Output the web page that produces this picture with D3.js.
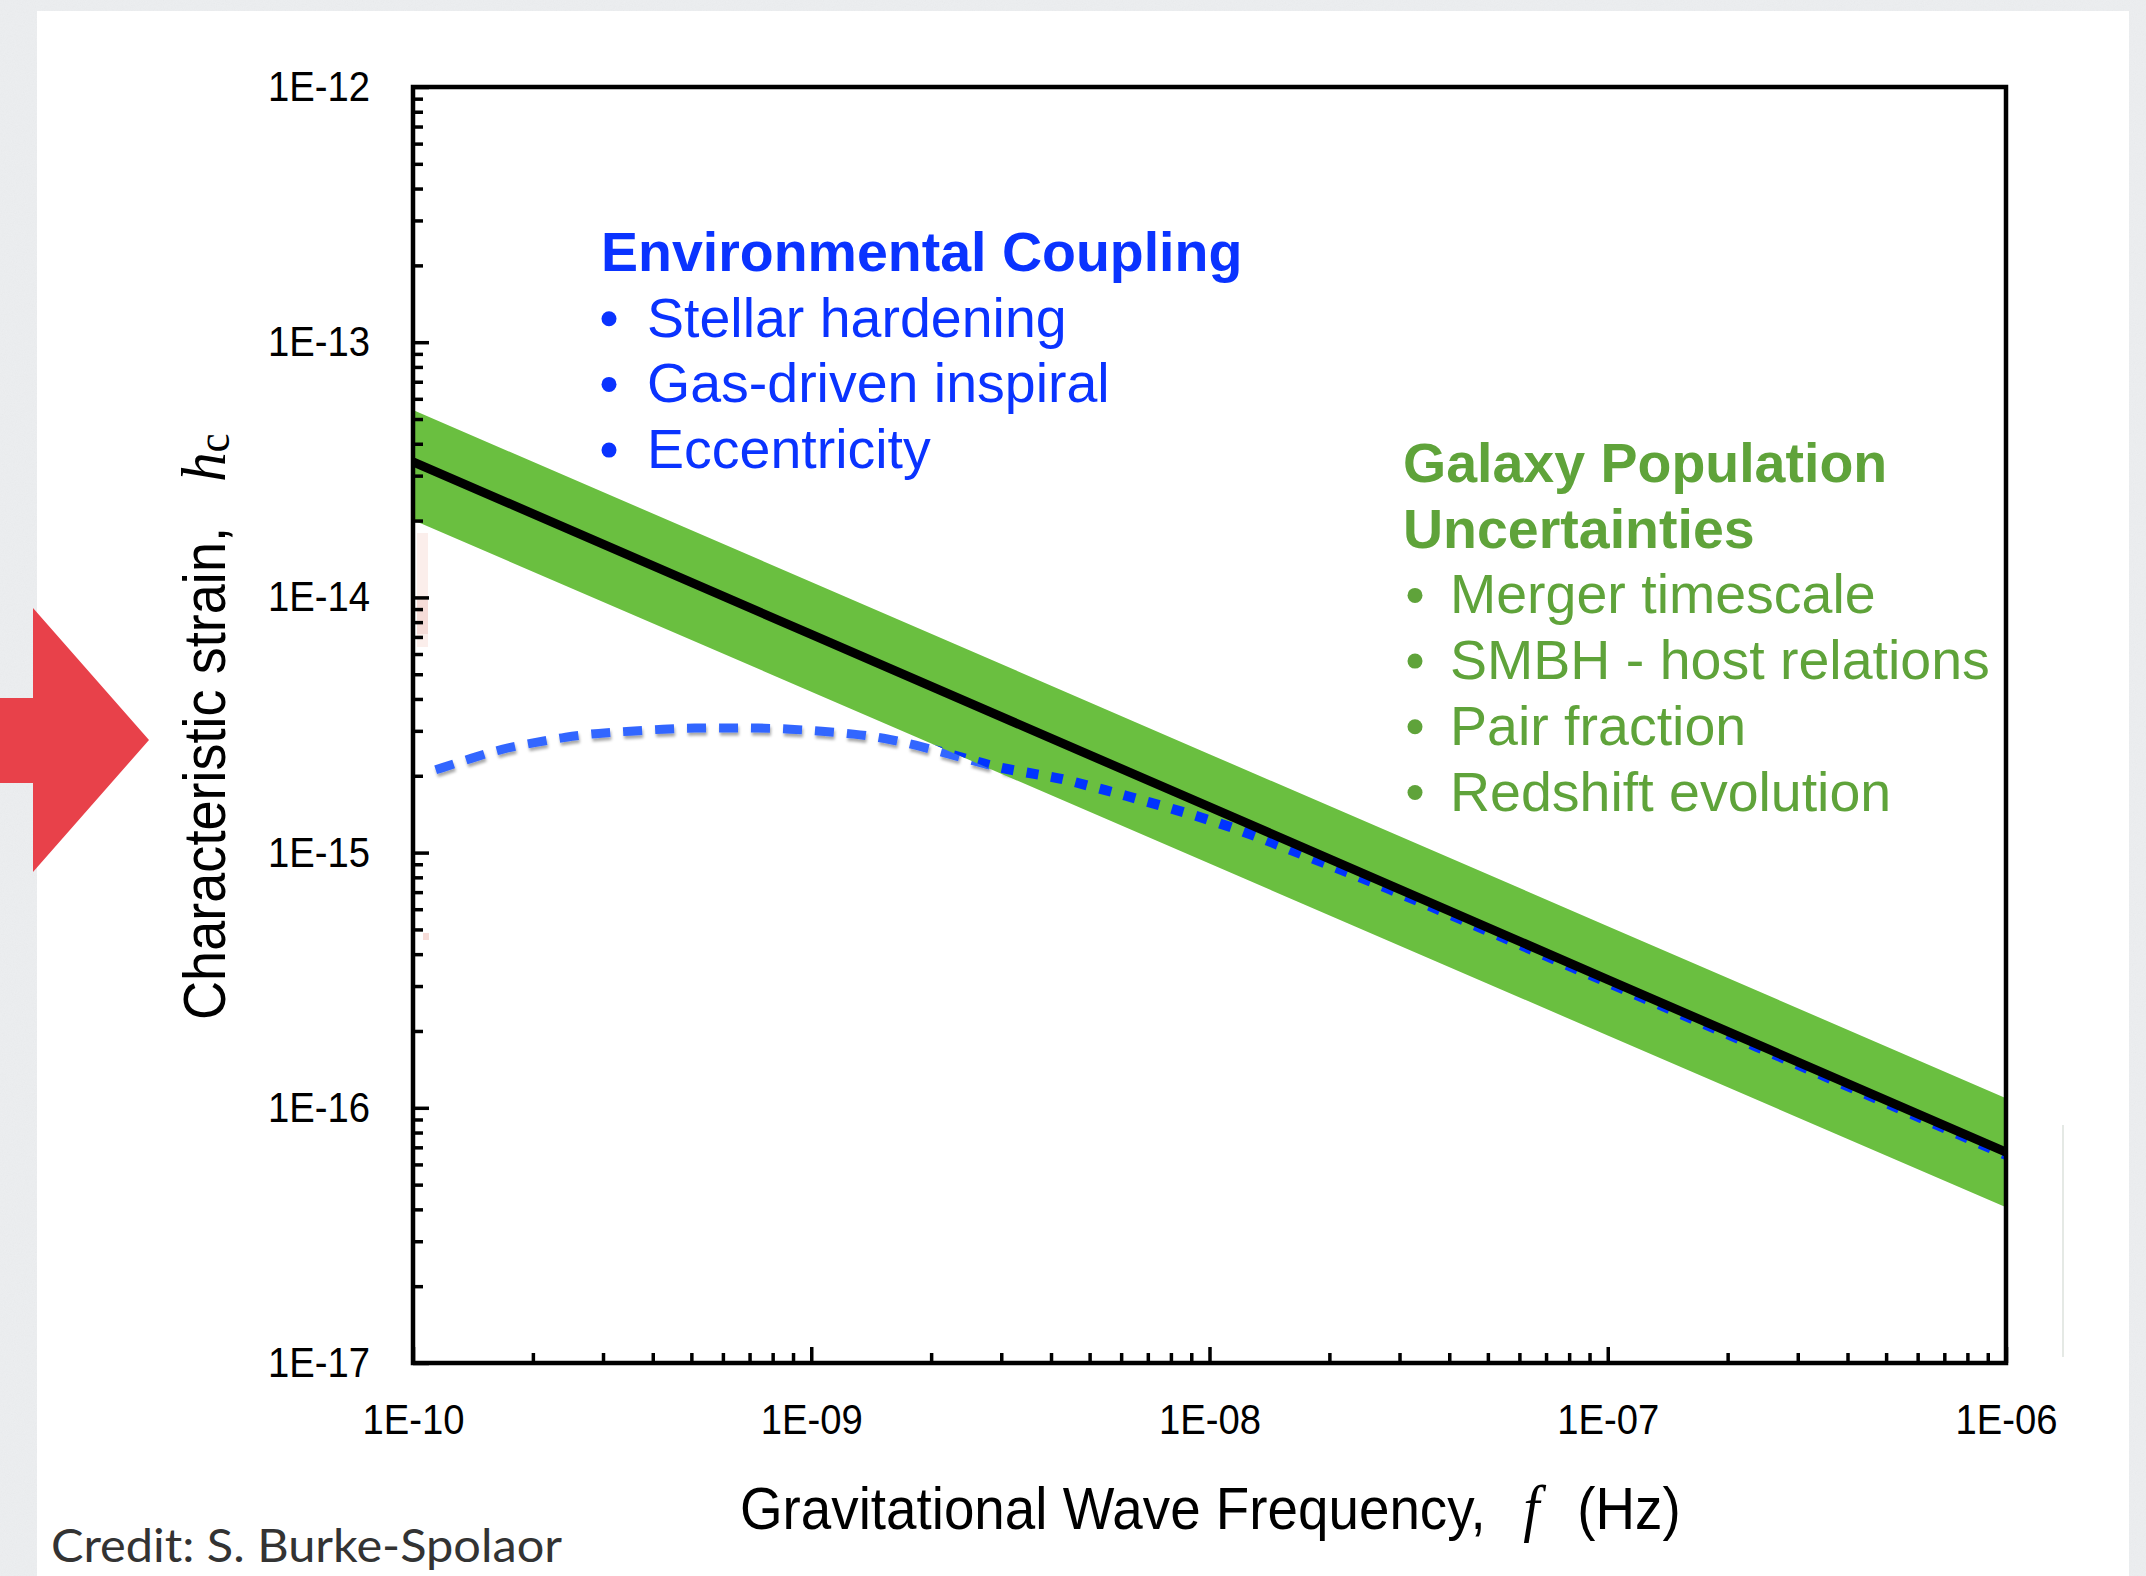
<!DOCTYPE html>
<html>
<head>
<meta charset="utf-8">
<script src="https://cdn.jsdelivr.net/npm/d3@7"></script>
<style>
  body { margin: 0; background: #eceef0; }
  svg { display: block; }
</style>
</head>
<body>
<div id="chart"></div>
<script>
// axis ticks
var xTickValues = [1e-10, 1e-9, 1e-8, 1e-7, 1e-6];
var xTickLabels = ["1E-10", "1E-09", "1E-08", "1E-07", "1E-06"];
var yTickValues = [1e-12, 1e-13, 1e-14, 1e-15, 1e-16, 1e-17];
var yTickLabels = ["1E-12", "1E-13", "1E-14", "1E-15", "1E-16", "1E-17"];

// power-law background (black line) and its uncertainty band
var modelFreq   = [1e-10, 1e-9, 1e-8, 1e-7, 1e-6];
var modelStrain = [3.40e-14, 7.16e-15, 1.51e-15, 3.18e-16, 6.71e-17];
var bandUpper   = [5.42e-14, 1.15e-14, 2.43e-15, 5.15e-16, 1.09e-16];
var bandLower   = [2.01e-14, 4.27e-15, 9.06e-16, 1.92e-16, 4.08e-17];

// environmentally coupled spectrum (blue dashed)
var envFreq = [1.14e-10, 1.41e-10, 1.67e-10, 2.00e-10, 2.42e-10, 2.93e-10, 3.51e-10, 4.25e-10,
  5.08e-10, 6.14e-10, 7.34e-10, 8.89e-10, 1.06e-9, 1.28e-9, 1.53e-9, 1.83e-9, 2.18e-9, 2.56e-9,
  2.92e-9, 3.40e-9, 3.88e-9, 4.44e-9, 5.07e-9, 5.86e-9, 6.70e-9, 7.78e-9, 1.04e-8, 1.35e-8,
  1.69e-8, 2.73e-8, 5.36e-8, 2.28e-7, 1.00e-6];
var envStrain = [2.11e-15, 2.35e-15, 2.55e-15, 2.69e-15, 2.84e-15, 2.94e-15, 2.99e-15, 3.05e-15,
  3.08e-15, 3.08e-15, 3.08e-15, 3.05e-15, 2.99e-15, 2.92e-15, 2.81e-15, 2.64e-15, 2.45e-15, 2.29e-15,
  2.16e-15, 2.07e-15, 2.00e-15, 1.92e-15, 1.81e-15, 1.71e-15, 1.61e-15, 1.51e-15, 1.32e-15, 1.14e-15,
  9.89e-16, 7.40e-16, 4.71e-16, 1.78e-16, 6.53e-17];

// annotations
var envTitle = "Environmental Coupling";
var envItems = ["Stellar hardening", "Gas-driven inspiral", "Eccentricity"];
var galTitle = ["Galaxy Population", "Uncertainties"];
var galItems = ["Merger timescale", "SMBH - host relations", "Pair fraction", "Redshift evolution"];

var W = 2146, H = 1576;
var frame = { left: 413, right: 2006, top: 87, bottom: 1363 };
var sans = "'Liberation Sans', Arial, Helvetica, sans-serif";
var serif = "'Liberation Serif', 'Times New Roman', serif";

var svg = d3.select("#chart").append("svg")
  .attr("width", W).attr("height", H);

var defs = svg.append("defs");
var noise = defs.append("filter").attr("id", "noise");
noise.append("feTurbulence").attr("type", "fractalNoise").attr("baseFrequency", 0.9).attr("numOctaves", 2);
noise.append("feColorMatrix").attr("type", "saturate").attr("values", 0);
var shadow = defs.append("filter").attr("id", "shadow")
  .attr("x", "-10%").attr("y", "-10%").attr("width", "120%").attr("height", "130%");
shadow.append("feDropShadow").attr("dx", 1).attr("dy", 3).attr("stdDeviation", 1.6)
  .attr("flood-color", "#000").attr("flood-opacity", 0.35);

// slide background + white panel
svg.append("rect").attr("width", W).attr("height", H).attr("fill", "#eceef0");
svg.append("rect").attr("width", W).attr("height", H).attr("filter", "url(#noise)").attr("opacity", 0.06);
svg.append("rect").attr("x", 37).attr("y", 11).attr("width", 2129 - 37).attr("height", H)
  .attr("fill", "#fff");

// red arrow
svg.append("path")
  .attr("d", "M0,698 L33,698 L33,608 L149,740 L33,872 L33,783 L0,783 Z")
  .attr("fill", "#e8414a");

// faint leftovers from the pasted figure
svg.append("rect").attr("x", 417).attr("y", 533).attr("width", 11).attr("height", 114).attr("fill", "#fbeeeb");
svg.append("rect").attr("x", 417).attr("y", 598).attr("width", 11).attr("height", 36).attr("fill", "#f5dcd8");
svg.append("rect").attr("x", 423).attr("y", 933).attr("width", 6).attr("height", 7).attr("fill", "#f6dcd8");
svg.append("line").attr("x1", 2063).attr("x2", 2063).attr("y1", 1125).attr("y2", 1357)
  .attr("stroke", "#dde2dd").attr("stroke-width", 1.5);

var x = d3.scaleLog().domain([1e-10, 1e-6]).range([frame.left, frame.right]);
var y = d3.scaleLog().domain([1e-17, 1e-12]).range([frame.bottom, frame.top]);

var bandRows = modelFreq.map(function (f, i) { return { f: f, hi: bandUpper[i], lo: bandLower[i] }; });
var modelRows = modelFreq.map(function (f, i) { return { f: f, h: modelStrain[i] }; });
var envRows = envFreq.map(function (f, i) { return { f: f, h: envStrain[i] }; });

var band = d3.area()
  .x(function (d) { return x(d.f); })
  .y0(function (d) { return y(d.lo); })
  .y1(function (d) { return y(d.hi); });
var line = d3.line()
  .x(function (d) { return x(d.f); })
  .y(function (d) { return y(d.h); });
var smooth = d3.line()
  .x(function (d) { return x(d.f); })
  .y(function (d) { return y(d.h); })
  .curve(d3.curveBasis);

defs.append("clipPath").attr("id", "bandClip")
  .append("path").attr("d", band(bandRows));

// light dashed part, the band covers it where they overlap
svg.append("path")
  .attr("d", smooth(envRows))
  .attr("fill", "none")
  .attr("stroke", "#3366ff")
  .attr("stroke-width", 9)
  .attr("stroke-dasharray", "19,13")
  .attr("filter", "url(#shadow)");

svg.append("path")
  .attr("d", band(bandRows))
  .attr("fill", "#6abf40");

// darker dotted part inside the band
svg.append("g").attr("clip-path", "url(#bandClip)")
  .append("path")
  .attr("d", smooth(envRows))
  .attr("fill", "none")
  .attr("stroke", "#0033ff")
  .attr("stroke-width", 10)
  .attr("stroke-dasharray", "12,13");

svg.append("path")
  .attr("d", line(modelRows))
  .attr("fill", "none")
  .attr("stroke", "#000")
  .attr("stroke-width", 9);

// axes: ticks point inward, labels slightly condensed like the original
function styleAxis(g) {
  g.select(".domain").remove();
  g.selectAll(".tick line").attr("stroke", "#000").attr("stroke-width", 3.5);
  g.selectAll("text").attr("font-family", sans).attr("font-size", 42).attr("fill", "#000")
    .each(function () {
      var w = this.getComputedTextLength();
      if (w > 0) d3.select(this).attr("textLength", w * 0.91).attr("lengthAdjust", "spacingAndGlyphs");
    });
}
var xMinor = x.ticks().filter(function (v) { return xTickValues.indexOf(v) < 0; });
var yMinor = y.ticks().filter(function (v) { return yTickValues.indexOf(v) < 0; });

svg.append("g").attr("transform", "translate(0," + frame.bottom + ")")
  .call(d3.axisBottom(x).tickValues(xMinor).tickSize(-10).tickFormat(""))
  .call(styleAxis);
svg.append("g").attr("transform", "translate(0," + frame.bottom + ")")
  .call(d3.axisBottom(x).tickValues(xTickValues).tickSize(-16).tickPadding(41)
    .tickFormat(function (d, i) { return xTickLabels[i]; }))
  .call(styleAxis);
svg.append("g").attr("transform", "translate(" + frame.left + ",0)")
  .call(d3.axisLeft(y).tickValues(yMinor).tickSize(-10).tickFormat(""))
  .call(styleAxis);
svg.append("g").attr("transform", "translate(" + frame.left + ",0)")
  .call(d3.axisLeft(y).tickValues(yTickValues).tickSize(-16).tickPadding(43)
    .tickFormat(function (d, i) { return yTickLabels[i]; }))
  .call(styleAxis);

svg.append("rect")
  .attr("x", frame.left).attr("y", frame.top)
  .attr("width", frame.right - frame.left).attr("height", frame.bottom - frame.top)
  .attr("fill", "none").attr("stroke", "#000").attr("stroke-width", 4.5);

// axis titles (one text each, condensed horizontally)
var xTitle = svg.append("text").attr("transform", "translate(740,1529) scale(0.913,1)")
  .attr("font-family", sans).attr("font-size", 60).attr("fill", "#000");
xTitle.append("tspan").attr("x", 0).text("Gravitational Wave Frequency,");
xTitle.append("tspan").attr("x", 858).attr("font-family", serif).attr("font-style", "italic")
  .attr("font-size", 64).text("f");
xTitle.append("tspan").attr("x", 917).text("(Hz)");

var yTitle = svg.append("text").attr("transform", "translate(225,1020) rotate(-90) scale(0.917,1)")
  .attr("font-family", sans).attr("font-size", 59).attr("fill", "#000");
yTitle.append("tspan").attr("x", 0).text("Characteristic strain,");
yTitle.append("tspan").attr("x", 587).attr("font-family", serif).attr("font-style", "italic")
  .attr("font-size", 64).text("h");
yTitle.append("tspan").attr("font-family", serif).attr("font-size", 47).attr("dy", 4).text("c");

// annotation blocks
function block(title, items, opt) {
  var g = svg.append("g").attr("fill", opt.color).attr("font-family", sans);
  g.selectAll("text.title").data(title).enter().append("text")
    .attr("class", "title")
    .attr("x", opt.x).attr("y", function (d, i) { return opt.y + i * opt.step; })
    .attr("font-weight", "bold").attr("font-size", 55.5)
    .text(function (d) { return d; });
  var y0 = opt.y + title.length * opt.step;
  g.selectAll("circle").data(items).enter().append("circle")
    .attr("cx", opt.bx).attr("cy", function (d, i) { return y0 + i * opt.step - 18; })
    .attr("r", 7.5);
  g.selectAll("text.item").data(items).enter().append("text")
    .attr("class", "item")
    .attr("x", opt.tx).attr("y", function (d, i) { return y0 + i * opt.step; })
    .attr("font-size", 55.5)
    .text(function (d) { return d; });
}
block([envTitle], envItems, { color: "#0a33ff", x: 601, y: 271, step: 65.7, bx: 609, tx: 647 });
block(galTitle, galItems, { color: "#5fa33a", x: 1403, y: 482, step: 65.7, bx: 1415, tx: 1450 });

// credit line
svg.append("text").attr("x", 51).attr("y", 1562)
  .attr("font-family", "Lato, 'Open Sans', sans-serif").attr("font-size", 46).attr("fill", "#333")
  .attr("textLength", 511).attr("lengthAdjust", "spacingAndGlyphs")
  .text("Credit: S. Burke-Spolaor");
</script>
</body>
</html>
